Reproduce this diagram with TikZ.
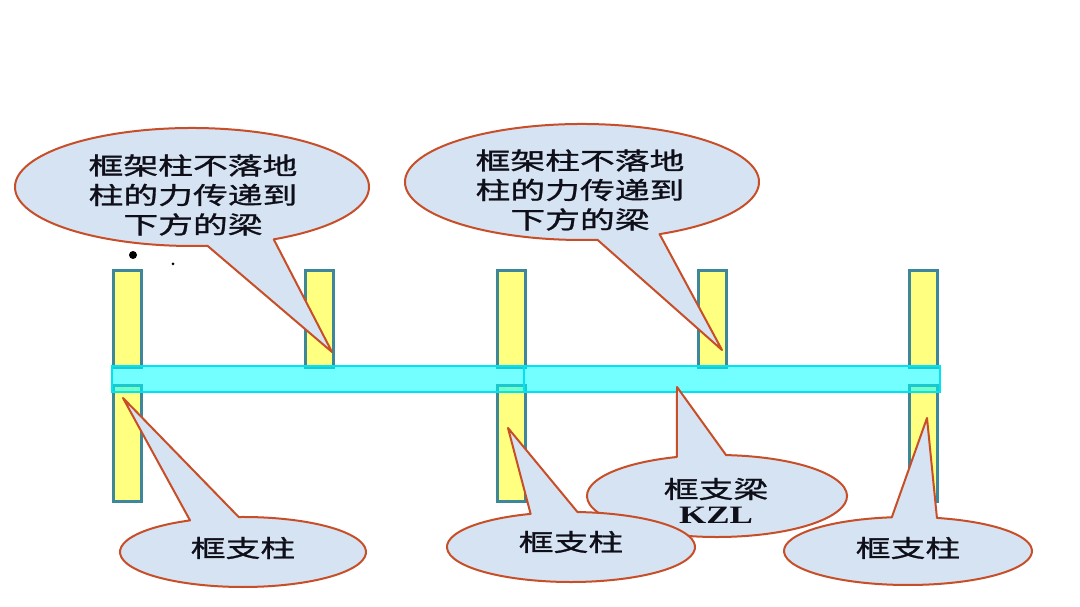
\documentclass[tikz,border=0pt]{standalone}
\usepackage{fontspec}
\newfontfamily\cjk[FakeStretch=1.45,FakeBold=1.2]{Noto Sans CJK SC}
\newfontfamily\latinb[FakeStretch=1.4]{Liberation Serif}
\usetikzlibrary{calc}
\definecolor{colfill}{RGB}{255,255,128}
\definecolor{colline}{RGB}{62,135,155}
\definecolor{beamfill}{RGB}{0,255,255}
\definecolor{beamline}{RGB}{0,228,242}
\definecolor{calfill}{RGB}{214,227,243}
\definecolor{calline}{RGB}{200,78,40}
\definecolor{txt}{RGB}{15,15,25}
\begin{document}
\begin{tikzpicture}[x=1pt,y=1pt,
  col/.style={draw=colline, fill=colfill, line width=3pt, inner sep=0pt, minimum width=28pt},
  beam/.style={draw=beamline, fill=beamfill, fill opacity=0.55, line width=2pt, inner sep=0pt, minimum height=26pt},
  callout/.style={fill=calfill, draw=calline, line width=2pt, line join=round},
  ctext/.style={text=txt, font=\cjk\fontsize{24}{29.5}\selectfont, align=center, inner sep=0pt},
  ltext/.style={text=txt, font=\latinb\bfseries\fontsize{25}{25}\selectfont, inner sep=0pt},
  dot/.style={fill=black, draw=none}
]
% background / bounding box
\path[fill=white] (0,0) rectangle (1080,607);
\useasboundingbox (0,0) rectangle (1080,607);

% upper columns
\node[col, minimum height=97pt] (c1u) at (127,287.5) {};
\node[col, minimum height=97pt] (c2u) at (319.5,287.5) {};
\node[col, minimum height=97pt] (c3u) at (511.5,287.5) {};
\node[col, minimum height=97pt] (c4u) at (712.5,287.5) {};
\node[col, minimum height=97pt] (c5u) at (923.5,287.5) {};
% lower columns
\node[col, minimum height=116pt] (c1l) at (127,163) {};
\node[col, minimum height=116pt] (c3l) at (511.5,163) {};
\node[col, minimum height=116pt] (c5l) at (923.5,163) {};

% beam (two segments)
\node[beam, minimum width=412pt] (bl) at (318,227.5) {};
\node[beam, minimum width=416pt] (br) at (732,227.5) {};

% dots
\fill[dot] (133,352) circle (4pt);
\fill[dot] (173,343) circle (1.5pt);

% callout 1
\coordinate (k1) at (192,420);
\coordinate (t1) at (332,255);
\path[callout] (t1) -- ($(k1)+(-62.5:177pt and 59pt)$)
  arc[start angle=-62.5, end angle=275, x radius=177pt, y radius=59pt] -- cycle;
\node[ctext] (x1) at (193,412) {框架柱不落地\\柱的力传递到\\下方的梁};

% callout 2
\coordinate (k2) at (582,425);
\coordinate (t2) at (722,257);
\path[callout] (t2) -- ($(k2)+(-64:177pt and 58pt)$)
  arc[start angle=-64, end angle=275, x radius=177pt, y radius=58pt] -- cycle;
\node[ctext] (x2) at (580,417) {框架柱不落地\\柱的力传递到\\下方的梁};

% callout 3
\coordinate (k3) at (243,55);
\coordinate (t3) at (123,209);
\path[callout] (t3) -- ($(k3)+(115.5:123pt and 35pt)$)
  arc[start angle=115.5, end angle=452, x radius=123pt, y radius=35pt] -- cycle;
\node[ctext] (x3) at (243,59) {框支柱};

% callout 5 (KZL)
\coordinate (k5) at (717,111);
\coordinate (t5) at (677,220);
\path[callout] (t5) -- ($(k5)+(108:130pt and 41pt)$)
  arc[start angle=108, end angle=446, x radius=130pt, y radius=41pt] -- cycle;
\node[ctext] (x5) at (716,118) {框支梁};
\node[ltext] (x5b) at (716,92) {KZL};

% callout 4
\coordinate (k4) at (571,60);
\coordinate (t4) at (508,179);
\path[callout] (t4) -- ($(k4)+(109:124pt and 35pt)$)
  arc[start angle=109, end angle=447, x radius=124pt, y radius=35pt] -- cycle;
\node[ctext] (x4) at (571,65) {框支柱};

% callout 6
\coordinate (k6) at (908,56);
\coordinate (t6) at (927,189);
\path[callout] (t6) -- ($(k6)+(97.5:124pt and 34pt)$)
  arc[start angle=97.5, end angle=436.5, x radius=124pt, y radius=34pt] -- cycle;
\node[ctext] (x6) at (908,59) {框支柱};
\end{tikzpicture}
\end{document}
